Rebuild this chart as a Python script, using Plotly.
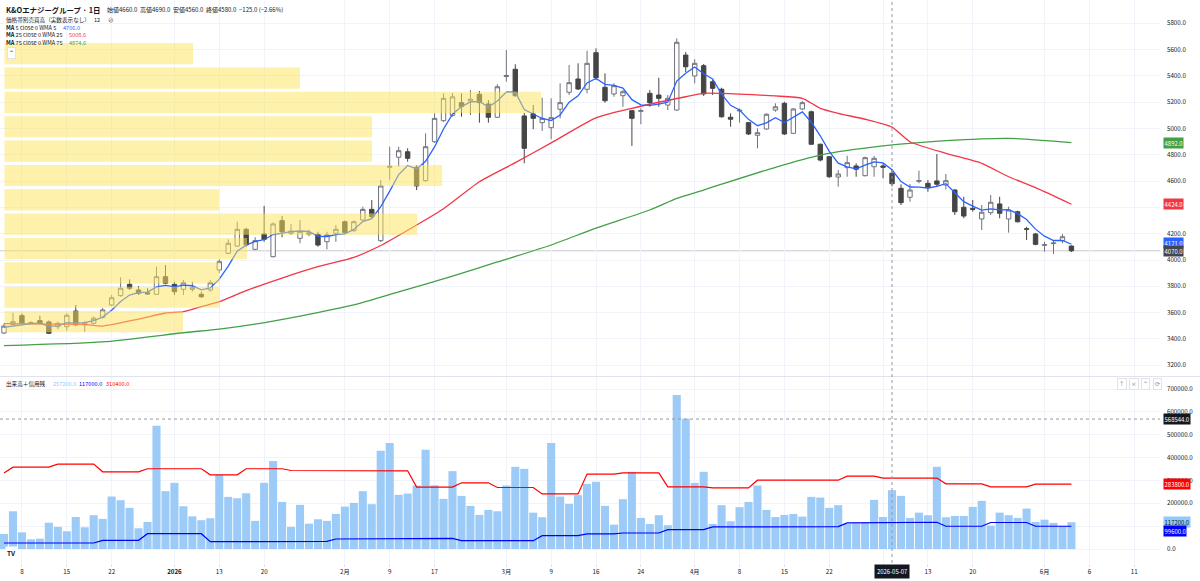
import plotly.graph_objects as go

# ---------------- data ----------------
bar_index = list(range(120))

opens = [3445,3511,3577,3517,3539,3529,3493,3493,3612,3506,3519,3564,3658,3729,3815,3772,3751,3739,3873,3815,
         3777,3777,3739,3772,3924,4051,4106,4233,4081,4198,4025,4299,4203,4165,4196,4195,4139,4203,4291,4223,
         4304,4385,4147,4705,4781,4823,4705,4603,4899,5059,5100,5196,5209,5260,5186,5085,5395,5450,5095,5110,
         5044,5006,5146,5275,5376,5298,5576,5313,5262,5249,5135,5130,5267,5254,5178,5140,5558,5399,5477,5355,
         5298,5085,5133,5044,4948,4996,5140,5191,4963,5148,5127,4880,4785,4631,4702,4715,4641,4709,4715,4660,
         4545,4477,4598,4583,4601,4570,4532,4401,4393,4312,4360,4426,4312,4367,4238,4198,4112,4125,4147,4106]
highs = [3515,3599,3594,3535,3577,3540,3531,3595,3658,3535,3570,3637,3734,3868,3853,3802,3785,3949,3962,3835,
         3848,3835,3759,3848,4005,4157,4291,4245,4173,4411,4285,4334,4274,4304,4230,4215,4215,4266,4300,4300,
         4405,4456,4608,4861,4861,4849,4722,4963,5115,5267,5270,5267,5292,5285,5216,5336,5596,5488,5117,5178,
         5234,5229,5343,5482,5495,5591,5609,5419,5343,5292,5140,5153,5292,5386,5254,5685,5581,5526,5490,5368,
         5310,5115,5153,5050,5001,5115,5191,5203,5155,5209,5135,4885,4790,4684,4793,4735,4785,4791,4735,4690,
         4575,4578,4679,4608,4806,4654,4540,4481,4456,4418,4494,4481,4405,4375,4253,4205,4139,4147,4198,4110]
lows = [3437,3506,3510,3510,3510,3437,3473,3463,3500,3453,3510,3555,3650,3720,3772,3734,3739,3735,3815,3734,
        3734,3759,3711,3759,3899,4045,4100,4100,4075,4139,4020,4173,4190,4127,4180,4101,4081,4139,4200,4215,
        4300,4320,4137,4608,4709,4747,4532,4595,4890,5050,5090,5089,5102,5044,5044,5080,5355,5241,4735,4994,
        4981,4918,5077,5254,5292,5267,5368,5196,5241,5165,4867,5032,5165,5165,5140,5135,5429,5343,5247,5254,
        5082,5013,5044,4950,4849,4990,5127,4950,4958,5140,4875,4750,4625,4557,4633,4633,4635,4633,4621,4560,
        4418,4443,4583,4519,4557,4537,4342,4317,4367,4228,4342,4317,4208,4285,4152,4112,4063,4046,4127,4061]
closes = [3498,3531,3519,3524,3519,3443,3519,3580,3506,3523,3557,3620,3713,3785,3785,3747,3742,3873,3823,3759,
          3827,3792,3721,3827,3987,4127,4233,4115,4147,4157,4274,4215,4220,4215,4208,4114,4190,4233,4210,4291,
          4385,4329,4563,4712,4831,4773,4563,4861,5077,5229,5240,5166,5222,5196,5085,5317,5402,5249,4849,5077,
          5077,5082,5196,5348,5300,5495,5386,5211,5325,5279,5077,5136,5196,5229,5229,5655,5469,5495,5262,5305,
          5089,5070,5138,4958,4968,5108,5165,4958,5148,5196,4880,4760,4633,4654,4740,4690,4778,4773,4705,4580,
          4436,4532,4603,4550,4576,4603,4367,4334,4385,4363,4439,4355,4380,4291,4234,4119,4116,4129,4177,4070]
pre_closes = [3540, 3530, 3480, 3450]   # closes just before the visible window (for WMA 5)

volumes = [65800,165000,73000,42500,45000,115000,96500,77600,140000,95000,
           148000,131600,229500,213500,180000,90700,118400,539500,253000,289500,
           187000,143000,126000,134600,324500,228000,222000,244000,123000,289500,
           384600,206000,96500,193000,111000,130000,123000,153500,185500,201700,
           253000,196000,430000,463500,237000,242500,277600,434000,279000,219300,
           340700,232500,188600,149000,171000,165000,277600,359600,350800,159000,
           139000,463500,229500,197400,235500,285000,294000,188600,106600,218000,
           337700,136000,109600,147800,104000,674000,570000,289500,337700,109600,
           191600,121500,183000,206000,277600,171000,140000,149000,153500,141700,
           228000,225000,180000,191600,110000,112000,116000,215000,140000,257200,
           232500,136000,159000,147800,359600,139000,144700,144700,184200,210500,
           102200,159000,147800,136000,176800,118400,128500,114000,101000,117200]

margin_buy = ([332000] + [358000]*5 + [371500]*5 + [337700]*5 + [351000]*7 + [324500]*4 +
              [351000]*5 + [343400]*5 + [345000]*5 + [342000]*4 + [270600]*5 + [289500]*4 +
              [269000]*5 + [241000]*5 + [327600]*4 + [333300]*5 + [272000]*5 + [267500]*5 +
              [301000]*10 + [319000]*4 + [310400]*7 + [285000]*5 + [272000]*5 + [283800]*5)
margin_sell = ([26300]*11 + [38000]*5 + [67000]*7 + [32000]*9 + [33500]*5 + [43800]*9 +
               [46800]*5 + [36500]*9 + [58500]*5 + [66500]*4 + [70000]*5 + [84800]*5 +
               [96500]*5 + [97900]*10 + [114000]*3 + [117000]*8 + [99600]*5 + [116000]*5 + [99600]*5)

ma25_k = [0, 5, 9, 11, 15, 18, 20, 23, 24, 27, 31, 35, 39, 42, 46, 49, 53, 57, 61, 66, 70, 76, 78,
          86, 89, 91, 93, 96, 99, 101, 105, 109, 112, 115, 119]
ma25_v = [3517, 3513, 3511, 3498, 3551, 3597, 3607, 3665, 3683, 3767, 3863, 3949, 4020, 4110, 4266,
          4390, 4595, 4740, 4890, 5080, 5153, 5241, 5267, 5247, 5229, 5153, 5115, 5070, 5010, 4899,
          4811, 4735, 4633, 4550, 4424]
ma75_k = [0, 11, 20, 24, 28, 33, 39, 44, 50, 55, 61, 66, 72, 75, 78, 86, 91, 98, 105, 112, 119]
ma75_v = [3349, 3377, 3447, 3475, 3513, 3574, 3658, 3757, 3878, 3985, 4114, 4243, 4380, 4469, 4532,
          4705, 4798, 4867, 4907, 4925, 4892]

vp_volume = [1244000, 1950000, 3541000, 2426000, 2426000, 2888000,
             1416000, 2723000, 1601000, 1422000, 1422000, 1178000]   # top row first
vp_low, vp_high = 3439, 5661

tick_k = [2, 7, 12, 19, 24, 29, 38, 43, 48, 56, 61, 66, 71, 77, 82, 87, 92, 98, 103, 108, 116, 121, 126]
tick_text = ["8", "15", "22", "<b>2026</b>", "13", "20", "2月", "9", "17", "3月", "9", "16", "24", "4月",
             "8", "15", "22", "", "13", "20", "6月", "6", "11"]

price_ticks = list(range(3200, 5801, 200))
price_hidden = [4400]            # covered by the MA25 tag in the reference
vol_ticks = list(range(0, 700001, 100000))
vol_hidden = [100000]            # covered by the volume / margin tags

# ---------------- derived ----------------
def wma(series, n):
    out = []
    for i in range(n - 1, len(series)):
        w = series[i - n + 1:i + 1]
        out.append(sum((j + 1) * v for j, v in enumerate(w)) / (n * (n + 1) / 2))
    return out

ma5 = wma(pre_closes + closes, 5)

rows = len(vp_volume)
pitch = (vp_high - vp_low) / rows
vp_centers = [vp_high - pitch * (i + 0.5) for i in range(rows)]

# ---------------- geometry ----------------
W, H = 1200, 581
ML, MR, MT, MB = 0, 40, 0, 18
PW, PH = W - ML - MR, H - MT - MB
bar_px = 8.97
x0_px = 4.0
x_range = [-x0_px / bar_px, (PW - x0_px) / bar_px]
price_bot_px = 376
vol_top_px = 377
price_range = [4000 - (price_bot_px - 260) * 7.602, 4000 + 260 * 7.602]
vol_range = [-(PH - 549) * 4375, (549 - vol_top_px) * 4375]
vp_max_px, vp_left_px = 536.5, 4.5
u = max(vp_volume) / vp_max_px
vp_range = [-vp_left_px * u, (PW - vp_left_px) * u]

def px(xp):
    return xp / PW

def py(yp):
    return 1 - yp / PH

GRID = "#f0f3fa"
TXT = "#131722"
FONT = "Noto Sans CJK JP, Noto Sans, sans-serif"

fig = go.Figure()

fig.add_trace(go.Candlestick(
    x=bar_index, open=opens, high=highs, low=lows, close=closes,
    increasing=dict(line=dict(color="#6f727c", width=1), fillcolor="#ffffff"),
    decreasing=dict(line=dict(color="#454545", width=1), fillcolor="#454545"),
    whiskerwidth=0, hoverinfo="skip", xaxis="x", yaxis="y"))

fig.add_trace(go.Scatter(x=ma75_k, y=ma75_v, mode="lines", line=dict(color="#43a047", width=1.3, shape="spline", smoothing=0.6),
                         hoverinfo="skip", xaxis="x", yaxis="y"))
fig.add_trace(go.Scatter(x=ma25_k, y=ma25_v, mode="lines", line=dict(color="#f23645", width=1.3, shape="spline", smoothing=0.6),
                         hoverinfo="skip", xaxis="x", yaxis="y"))
fig.add_trace(go.Scatter(x=bar_index, y=ma5, mode="lines", line=dict(color="#2962ff", width=1.3),
                         hoverinfo="skip", xaxis="x", yaxis="y"))

# volume profile overlay
fig.add_trace(go.Bar(x=vp_volume, y=vp_centers, orientation="h", width=pitch * 0.87,
                     marker=dict(color="rgba(252,227,90,0.5)", line=dict(width=0)),
                     hoverinfo="skip", xaxis="x3", yaxis="y"))

# volume pane
fig.add_trace(go.Bar(x=bar_index, y=volumes, marker=dict(color="#9ccbf8", line=dict(width=0)),
                     hoverinfo="skip", xaxis="x2", yaxis="y2"))
fig.add_trace(go.Scatter(x=bar_index, y=margin_buy, mode="lines", line=dict(color="#ff0000", width=1.2),
                         hoverinfo="skip", xaxis="x2", yaxis="y2"))
fig.add_trace(go.Scatter(x=bar_index, y=margin_sell, mode="lines", line=dict(color="#0000ff", width=1.2),
                         hoverinfo="skip", xaxis="x2", yaxis="y2"))

shapes = [
    dict(type="line", xref="paper", yref="y", x0=0, x1=1, y0=closes[-1], y1=closes[-1],
         line=dict(color="#c8cad0", width=1), layer="below"),
    dict(type="line", xref="paper", yref="paper", x0=0, x1=W / PW, y0=py(376.5), y1=py(376.5),
         line=dict(color="#e0e3eb", width=1)),
    dict(type="line", xref="x", yref="paper", x0=99, x1=99, y0=0, y1=1,
         line=dict(color="#9598a1", width=1, dash="dot")),
    dict(type="line", xref="paper", yref="y2", x0=0, x1=1, y0=568544, y1=568544,
         line=dict(color="#9598a1", width=1, dash="dot")),
]

ann = []
def label(xp, yp, text, size=5.8, color=TXT, **kw):
    ann.append(dict(x=px(xp), y=py(yp), xref="paper", yref="paper", text=text, showarrow=False,
                    xanchor="left", yanchor="middle", font=dict(size=size, color=color, family=FONT), **kw))

label(4, 9, "<b>K&Oエナジーグループ · 1日</b>", size=7.4)
label(105, 9, "始値4660.0  高値4690.0  安値4560.0  終値4580.0  −125.0 (−2.66%)", size=6.0)
label(4, 19.7, "価格帯別売買高（実数表示なし）", size=5.6)
label(92, 19.7, "12", size=5.6)
label(106, 19.7, "⊘", size=5.6)
label(4, 27.7, "<b>MA</b> 5 close 0 WMA 5", size=5.6)
label(61, 27.7, "4706.0", size=5.6, color="#2962ff")
label(4, 35.4, "<b>MA</b> 25 close 0 WMA 25", size=5.6)
label(67, 35.4, "5008.6", size=5.6, color="#f23645")
label(4, 43.3, "<b>MA</b> 75 close 0 WMA 75", size=5.6)
label(67, 43.3, "4874.6", size=5.6, color="#43a047")
label(7, 52.5, "⌃", size=5.6, bgcolor="#ffffff", bordercolor="#e0e3eb", borderwidth=1, borderpad=1)
label(4, 384, "出来高＋信用残", size=5.6)
label(51, 384, "257200.0", size=5.6, color="#90caf9")
label(77, 384, "117000.0", size=5.6, color="#0000ff")
label(104, 384, "310400.0", size=5.6, color="#ff0000")
label(5, 553, "<b>TV</b>", size=6.5, bgcolor="#ffffff", borderpad=1)

for i, sym in enumerate(["↑", "×", "⌃", "⟳"]):
    label(1117 + i * 12, 384, sym, size=5.5, color="#787b86", bgcolor="#ffffff",
          bordercolor="#e0e3eb", borderwidth=1, borderpad=1)

def axis_tag(yv, yref, text, bg, fg="#ffffff", yshift=0):
    ann.append(dict(x=1, y=yv, xref="paper", yref=yref, text=text, showarrow=False, xanchor="left",
                    yanchor="middle", xshift=3, yshift=yshift, bgcolor=bg, borderpad=0.6,
                    font=dict(size=5.9, color=fg, family=FONT)))

axis_tag(4892.0, "y", "4892.0", "#43a047")
axis_tag(4424.0, "y", "4424.0", "#f23645")
axis_tag(4121.0, "y", "4121.0", "#2962ff", yshift=1.5)
axis_tag(closes[-1], "y", "4070.0", "#434651", yshift=-0.5)
axis_tag(568544, "y2", "568544.0", "#131722")
axis_tag(margin_buy[-1], "y2", "283800.0", "#ff0000")
axis_tag(volumes[-1], "y2", "117200.0", "#90caf9", fg=TXT)
axis_tag(margin_sell[-1], "y2", "99600.0", "#0000ff", yshift=-4.3)

ann.append(dict(x=99, y=py(571), xref="x", yref="paper", text="2026-05-07", showarrow=False,
                xanchor="center", yanchor="middle", bgcolor="#131722", borderpad=2,
                font=dict(size=5.9, color="#ffffff", family=FONT)))

fig.update_layout(
    width=W, height=H, margin=dict(l=ML, r=MR, t=MT, b=MB, autoexpand=False),
    paper_bgcolor="#ffffff", plot_bgcolor="#ffffff", showlegend=False,
    font=dict(family=FONT, size=6, color=TXT), bargap=0.1, hovermode=False,
    xaxis=dict(domain=[0, 1], range=x_range, anchor="y", tickvals=tick_k, showticklabels=False,
               showgrid=True, gridcolor=GRID, zeroline=False, rangeslider=dict(visible=False), fixedrange=True),
    xaxis2=dict(domain=[0, 1], range=x_range, anchor="y2", matches="x", tickvals=tick_k, ticktext=tick_text,
                showgrid=True, gridcolor=GRID, zeroline=False, tickfont=dict(size=6.2, color=TXT),
                ticks="outside", ticklen=3, tickcolor="#e0e3eb"),
    xaxis3=dict(overlaying="x", anchor="y", range=vp_range, visible=False),
    yaxis=dict(domain=[py(price_bot_px), 1], range=price_range, side="right", anchor="x",
               tickvals=price_ticks, ticktext=["" if v in price_hidden else f"{v:.1f}" for v in price_ticks],
               showgrid=True, gridcolor=GRID, zeroline=False, tickfont=dict(size=6.2, color=TXT),
               ticklabelstandoff=6),
    yaxis2=dict(domain=[0, py(vol_top_px)], range=vol_range, side="right", anchor="x2",
                tickvals=vol_ticks, ticktext=["" if v in vol_hidden else f"{v:.1f}" for v in vol_ticks],
                showgrid=True, gridcolor=GRID, zeroline=False, tickfont=dict(size=6.2, color=TXT),
                ticklabelstandoff=6),
    shapes=shapes, annotations=ann,
)

fig.write_html("out.html", config={"displayModeBar": False},
               post_script="document.body.style.margin='0px';document.body.style.overflow='hidden';")
